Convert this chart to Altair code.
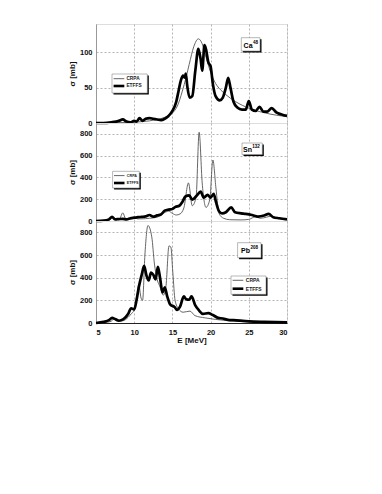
import altair as alt
import pandas as pd

# ---------------- data ----------------
x_ticks = [5, 10, 15, 20, 25, 30]
series_names = ["CRPA", "ETFFS"]

ca_crpa_e = [5, 8, 10, 11, 12, 13, 14, 15, 15.65, 16.3, 16.8, 17.2, 17.8, 18.4, 18.9, 19.35, 20, 20.65, 21.3, 22, 23.3, 25, 27.2, 30]
ca_crpa_s = [0, 0.5, 1, 2, 3, 5, 8, 14, 24, 45, 65, 83, 108, 119, 112, 95, 72, 56, 47, 40, 30, 21, 14, 9]

ca_etffs_e = [5, 6, 7, 8, 8.5, 9, 9.5, 10, 10.3, 10.7, 11.1, 11.5, 12, 12.5, 13, 13.5, 14, 14.5, 15, 15.5, 15.8, 16.1, 16.4, 16.6, 16.75, 16.95, 17.25, 17.6, 18.0, 18.4, 18.7, 18.9, 19.2, 19.4, 19.7, 20.0, 20.3, 20.65, 21.2, 21.6, 22.0, 22.3, 22.6, 23.0, 23.5, 24.1, 24.6, 25.0, 25.4, 25.9, 26.4, 26.9, 27.4, 28.0, 28.6, 29.3, 30]
ca_etffs_s = [0, 0, 1, 3, 5, 2, 1, 3, 2, 7, 3, 6, 7, 6, 5, 4, 6, 10, 17, 30, 45, 60, 67, 64, 70, 52, 36, 38, 74, 105, 90, 74, 110, 104, 86, 80, 55, 38, 32, 36, 50, 64, 50, 30, 22, 19, 19, 31, 19, 17, 23, 16, 16, 21, 15, 12, 10]

sn_crpa_e = [5, 6, 6.8, 7.2, 7.6, 8.1, 8.5, 8.9, 9.5, 10, 10.4, 11, 12, 13, 13.8, 14.5, 15, 15.5, 16, 16.5, 17.1, 17.6, 18.1, 18.5, 18.9, 19.4, 19.9, 20.3, 20.7, 21.1, 21.7, 22.5, 24, 25, 25.9, 26.5, 27.3, 28, 28.6, 30]
sn_crpa_s = [0, 1, 10, 35, 12, 20, 75, 20, 15, 40, 20, 20, 25, 35, 70, 90, 70, 55, 65, 120, 350, 140, 220, 815, 350, 125, 200, 560, 300, 70, 25, 12, 10, 15, 40, 25, 35, 45, 25, 15]

sn_etffs_e = [5, 6, 6.7, 7.1, 7.5, 8, 8.5, 9, 9.5, 10, 10.5, 11, 11.5, 12, 12.5, 13, 13.5, 14, 14.5, 15, 15.4, 15.9, 16.3, 16.7, 17.2, 17.6, 18.2, 18.7, 19.1, 19.6, 20.0, 20.4, 20.7, 21.1, 21.5, 22.0, 22.7, 23.2, 24, 24.6, 25.4, 26.2, 27, 27.6, 28.2, 29, 30]
sn_etffs_s = [0, 3, 15, 38, 15, 18, 20, 15, 25, 30, 35, 38, 42, 55, 40, 52, 60, 95, 105, 110, 130, 140, 175, 225, 235, 195, 235, 270, 215, 240, 215, 250, 175, 90, 70, 80, 125, 80, 70, 65, 55, 40, 50, 65, 35, 25, 15]

pb_crpa_e = [5, 6, 7, 7.3, 7.7, 8.5, 9.2, 9.6, 10, 10.3, 10.6, 10.9, 11.1, 11.4, 11.8, 12.3, 12.65, 12.95, 13.4, 13.8, 14.15, 14.55, 14.8, 15.05, 15.35, 15.8, 16.4, 17.3, 17.95, 19.3, 20.6, 22, 25, 30]
pb_crpa_s = [0, 3, 15, 35, 20, 20, 50, 80, 115, 200, 340, 220, 200, 600, 860, 760, 520, 400, 315, 245, 320, 680, 670, 450, 200, 125, 95, 105, 65, 45, 32, 22, 12, 5]

pb_etffs_e = [5, 6, 6.7, 7.1, 7.5, 8, 8.6, 9.2, 9.6, 10, 10.3, 10.6, 11.0, 11.3, 11.6, 11.9, 12.2, 12.5, 12.8, 13.1, 13.4, 13.7, 14.0, 14.3, 14.7, 15.3, 15.6, 16.0, 16.5, 16.8, 17.2, 17.5, 18.0, 18.5, 19.0, 19.7, 20.3, 21.0, 21.6, 22.3, 23, 25, 27, 30]
pb_etffs_s = [0, 10, 25, 45, 35, 20, 35, 80, 130, 120, 200, 315, 430, 505, 420, 375, 445, 425, 385, 495, 390, 270, 315, 240, 165, 140, 115, 145, 235, 210, 205, 235, 155, 110, 80, 88, 70, 45, 40, 28, 25, 15, 10, 5]

FONT = "Liberation Sans"
W = 191


def frame(e1, s1, e2, s2):
    a = pd.DataFrame({"E": e1, "s": s1, "series": series_names[0]})
    b = pd.DataFrame({"E": e2, "s": s2, "series": series_names[1]})
    return pd.concat([a, b], ignore_index=True)


one = pd.DataFrame({"k": [0]})


def panel(df, ymax, yticks, height, bottom, label, sup, lab_box, lab_txt, leg, leg_fs):
    if bottom:
        xaxis = alt.Axis(values=x_ticks, grid=True, gridDash=[2, 2], gridColor="#b5b5b5",
                         domainColor="#222", domainWidth=1, ticks=False,
                         labelPadding=5, labelFontSize=7.5,
                         labelFont=FONT, labelFontWeight="bold", labelColor="#111",
                         title="E [MeV]", titleFontSize=8,
                         titleFont=FONT, titleFontWeight="bold", titlePadding=1, titleColor="#111")
    else:
        xaxis = alt.Axis(values=x_ticks, grid=True, gridDash=[2, 2], gridColor="#b5b5b5",
                         domainColor="#222", domainWidth=1, ticks=False, labels=False,
                         title=None, labelPadding=0, minExtent=0, maxExtent=0, offset=0)
    yaxis = alt.Axis(values=yticks, grid=True, gridDash=[2, 2], gridColor="#b5b5b5",
                     domainColor="#999", ticks=False, labelPadding=4, labelFontSize=7.5,
                     labelFont=FONT, labelFontWeight="bold", labelColor="#111",
                     title="σ [mb]", titleFontSize=8, titleFont=FONT,
                     titleFontWeight="bold", titlePadding=3, titleColor="#111")
    lines = alt.Chart(df).mark_line(interpolate="monotone").encode(
        x=alt.X("E:Q", scale=alt.Scale(domain=[5, 30], nice=False), axis=xaxis),
        y=alt.Y("s:Q", scale=alt.Scale(domain=[0, ymax], nice=False), axis=yaxis),
        color=alt.Color("series:N", scale=alt.Scale(domain=series_names, range=["#555555", "#000000"]), legend=None),
        strokeWidth=alt.StrokeWidth("series:N", scale=alt.Scale(domain=series_names, range=[0.9, 2.7]), legend=None),
    )
    layers = [lines]

    def box(x1, x2, y1, y2, stroke):
        sh = alt.Chart(one).mark_rect(color="#000").encode(
            x=alt.value(x1 + 1.5), x2=alt.value(x2 + 1.5), y=alt.value(y1 + 1.5), y2=alt.value(y2 + 1.5))
        bx = alt.Chart(one).mark_rect(fill="#fff", stroke=stroke, strokeWidth=0.6).encode(
            x=alt.value(x1), x2=alt.value(x2), y=alt.value(y1), y2=alt.value(y2))
        return [sh, bx]

    # element label box
    layers += box(*lab_box, "#888")
    tx, tb, sx, sb = lab_txt
    layers.append(alt.Chart(one).mark_text(text=label, align="left", baseline="alphabetic",
                                           font=FONT, fontWeight="bold", fontSize=7, color="#000")
                  .encode(x=alt.value(tx), y=alt.value(tb)))
    layers.append(alt.Chart(one).mark_text(text=sup, align="left", baseline="alphabetic",
                                           font=FONT, fontWeight="bold", fontSize=4.5, color="#000")
                  .encode(x=alt.value(sx), y=alt.value(sb)))

    # legend
    lx1, lx2, ly1, ly2, rx1, rx2, r1y, r2y, txx = leg
    layers += box(lx1, lx2, ly1, ly2, "#888")
    layers.append(alt.Chart(one).mark_rule(color="#555", strokeWidth=0.9).encode(
        x=alt.value(rx1), x2=alt.value(rx2), y=alt.value(r1y)))
    layers.append(alt.Chart(one).mark_rule(color="#000", strokeWidth=2.6).encode(
        x=alt.value(rx1), x2=alt.value(rx2), y=alt.value(r2y)))
    for txt, yy in (("CRPA", r1y), ("ETFFS", r2y)):
        layers.append(alt.Chart(one).mark_text(text=txt, align="left", baseline="middle",
                                               font=FONT, fontWeight="bold", fontSize=leg_fs, color="#222")
                      .encode(x=alt.value(txx), y=alt.value(yy)))
    return alt.layer(*layers).properties(width=W, height=height)


p1 = panel(frame(ca_crpa_e, ca_crpa_s, ca_etffs_e, ca_etffs_s), 140, [0, 50, 100], 99, False,
           "Ca", "48", (145.3, 164, 13.7, 27), (147.6, 23.5, 157.0, 19.5),
           (16, 51.3, 50, 69, 17.6, 28.3, 54.7, 62, 30.4), 4.8)
p2 = panel(frame(sn_crpa_e, sn_crpa_s, sn_etffs_e, sn_etffs_s), 900, [0, 200, 400, 600, 800], 98, False,
           "Sn", "132", (146, 166.3, 20, 31.6), (147.0, 29, 156.3, 25),
           (16.6, 43.3, 48.3, 65, 18, 28.5, 52.6, 60, 30.8), 3.7)
p3 = panel(frame(pb_crpa_e, pb_crpa_s, pb_etffs_e, pb_etffs_s), 900, [0, 200, 400, 600, 800], 102, True,
           "Pb", "208", (141.6, 165, 21.7, 36.7), (145, 32.3, 154.6, 27.5),
           (135, 170, 55, 73.3, 136.6, 147.3, 59.3, 67.7, 149.8), 5.0)

chart = alt.vconcat(p1, p2, p3, spacing=0, bounds="flush").properties(
    padding={"left": 59, "top": 15, "right": 10, "bottom": 10}
).configure_view(stroke="#999", strokeWidth=1).configure(background="white")

chart.save("out.html", embed_options={"renderer": "svg", "actions": False})
